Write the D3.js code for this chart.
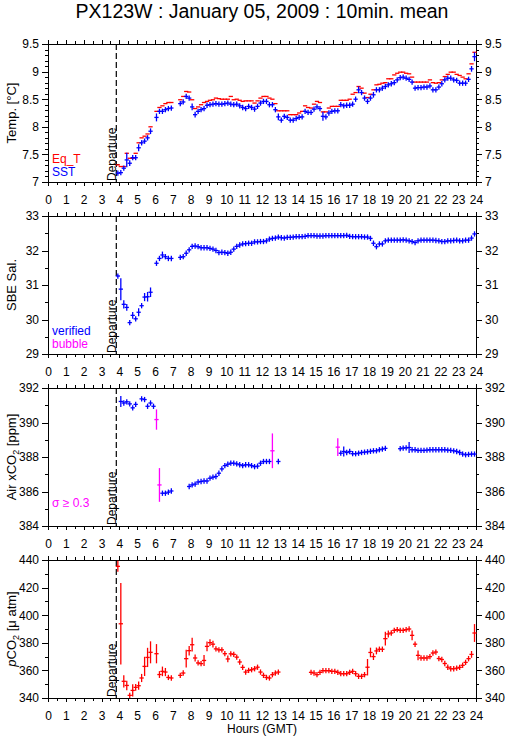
<!DOCTYPE html>
<html>
<head>
<meta charset="utf-8">
<script src="https://cdn.jsdelivr.net/npm/d3@7"></script>
<style>
  body { margin: 0; background: #fff; }
  svg { display: block; font-family: "Liberation Sans", Arial, sans-serif; }
</style>
</head>
<body>
<div id="chart"></div>
<script>
// 10 minute means, first one centred on 03:55 GMT
const startHour = 3 + 55 / 60;
const stepHours = 10 / 60;
const departureHour = 3.83;

const hourTicks = [0, 1, 2, 3, 4, 5, 6, 7, 8, 9, 10, 11, 12, 13, 14, 15, 16, 17, 18, 19, 20, 21, 22, 23, 24];
const tempTicks = [7, 7.5, 8, 8.5, 9, 9.5];
const salTicks = [29, 30, 31, 32, 33];
const airTicks = [384, 386, 388, 390, 392];
const pco2Ticks = [340, 360, 380, 400, 420, 440];

const eqT = [7.31, 7.28, 7.28, 7.52, 7.43, 7.43, 7.52, 7.71, 7.80, 7.83,
  7.87, 8.00, null, 8.28, 8.35, 8.38, 8.42, 8.44, 8.44, null,
  null, 8.49, 8.55, 8.64, 8.63, 8.49, 8.33, 8.36, 8.40, 8.44,
  8.46, 8.48, 8.49, 8.52, 8.51, 8.50, 8.50, 8.50, 8.55, 8.49,
  8.50, 8.48, 8.46, 8.47, 8.47, 8.47, 8.43, 8.47, 8.52, 8.55,
  8.55, 8.52, 8.50, 8.42, 8.29, 8.29, 8.29, 8.29, 8.22, 8.22,
  8.22, 8.25, 8.28, 8.38, 8.35, 8.34, 8.41, 8.46, 8.44, 8.27,
  8.27, 8.34, 8.37, 8.37, 8.37, 8.48, 8.48, 8.48, 8.50, 8.59,
  8.62, 8.73, 8.70, 8.61, 8.53, 8.59, 8.67, 8.76, 8.77, 8.79,
  8.80, 8.87, 8.87, 8.94, 8.97, 8.99, 8.99, 8.97, 8.96, 8.90,
  8.81, 8.81, 8.81, 8.81, 8.81, 8.85, 8.80, 8.79, 8.80, 8.85,
  8.91, 8.95, 8.99, 8.99, 8.95, 8.93, 8.90, 8.87, 8.96, 9.14,
  9.35];

const sst = [7.16, 7.17, 7.25, 7.40, 7.34, 7.44, 7.44, 7.62, 7.71, 7.74,
  7.80, 7.92, null, 8.17, 8.28, 8.28, 8.31, 8.33, 8.34, null,
  null, 8.42, 8.45, 8.55, 8.52, 8.36, 8.22, 8.28, 8.31, 8.33,
  8.39, 8.40, 8.41, 8.42, 8.41, 8.41, 8.42, 8.43, 8.41, 8.40,
  8.41, 8.38, 8.35, 8.33, 8.37, 8.35, 8.32, 8.37, 8.43, 8.46,
  8.46, 8.40, 8.40, 8.31, 8.18, 8.12, 8.19, 8.17, 8.12, 8.12,
  8.15, 8.17, 8.18, 8.28, 8.26, 8.26, 8.32, 8.36, 8.33, 8.19,
  8.18, 8.25, 8.28, 8.29, 8.29, 8.40, 8.38, 8.39, 8.39, 8.41,
  8.50, 8.67, 8.62, 8.52, 8.46, 8.52, 8.58, 8.67, 8.67, 8.70,
  8.73, 8.76, 8.78, 8.80, 8.85, 8.89, 8.90, 8.88, 8.86, 8.81,
  8.70, 8.71, 8.71, 8.72, 8.72, 8.74, 8.67, 8.67, 8.72, 8.78,
  8.85, 8.88, 8.88, 8.85, 8.84, 8.79, 8.79, 8.79, 8.86, 9.05,
  9.27];

const sstSd = [0.02, 0.02, 0.03, 0.12, 0.04, 0.03, 0.02, 0.05, 0.02, 0.03,
  0.02, 0.04, 0, 0.06, 0.02, 0.02, 0.02, 0.02, 0.02, 0,
  0, 0.02, 0.02, 0.03, 0.02, 0.05, 0.04, 0.02, 0.02, 0.02,
  0.02, 0.02, 0.02, 0.02, 0.02, 0.02, 0.02, 0.02, 0.02, 0.02,
  0.02, 0.02, 0.02, 0.02, 0.02, 0.02, 0.02, 0.02, 0.02, 0.02,
  0.02, 0.02, 0.02, 0.02, 0.05, 0.03, 0.02, 0.02, 0.02, 0.02,
  0.02, 0.02, 0.02, 0.02, 0.02, 0.02, 0.02, 0.02, 0.02, 0.07,
  0.02, 0.02, 0.02, 0.02, 0.02, 0.02, 0.02, 0.02, 0.02, 0.02,
  0.02, 0.05, 0.03, 0.02, 0.02, 0.02, 0.04, 0.03, 0.02, 0.02,
  0.02, 0.02, 0.02, 0.02, 0.02, 0.02, 0.02, 0.02, 0.02, 0.02,
  0.02, 0.02, 0.02, 0.02, 0.02, 0.02, 0.02, 0.02, 0.02, 0.02,
  0.02, 0.02, 0.02, 0.02, 0.02, 0.02, 0.02, 0.02, 0.02, 0.04,
  0.07];

const sal = [31.26, 30.88, 30.44, 30.35, 29.91, 30.12, 30.02, 30.21, 30.40, 30.65,
  30.66, 30.79, null, 31.63, 31.77, 31.87, 31.82, 31.77, 31.77, null,
  null, 31.80, 31.82, 31.92, 32.02, 32.12, 32.13, 32.11, 32.08, 32.08,
  32.08, 32.06, 32.04, 32.00, 31.94, 31.95, 31.94, 31.92, 31.95, 32.04,
  32.12, 32.16, 32.19, 32.20, 32.21, 32.21, 32.25, 32.25, 32.26, 32.26,
  32.28, 32.33, 32.35, 32.36, 32.39, 32.37, 32.36, 32.38, 32.38, 32.39,
  32.40, 32.40, 32.40, 32.41, 32.43, 32.43, 32.43, 32.42, 32.42, 32.42,
  32.43, 32.43, 32.43, 32.43, 32.43, 32.43, 32.43, 32.44, 32.41, 32.40,
  32.40, 32.40, 32.40, 32.39, 32.39, 32.35, 32.21, 32.11, 32.19, 32.19,
  32.28, 32.30, 32.30, 32.30, 32.30, 32.30, 32.31, 32.30, 32.28, 32.26,
  32.23, 32.28, 32.30, 32.30, 32.30, 32.30, 32.30, 32.29, 32.28, 32.26,
  32.26, 32.28, 32.28, 32.29, 32.30, 32.28, 32.28, 32.30, 32.30, 32.36,
  32.48];

const salSd = [0.02, 0.30, 0.10, 0.08, 0.05, 0.08, 0.03, 0.10, 0.03, 0.10,
  0.12, 0.12, 0, 0.05, 0.04, 0.08, 0.05, 0.06, 0.06, 0,
  0, 0.02, 0.02, 0.02, 0.02, 0.02, 0.02, 0.02, 0.02, 0.02,
  0.02, 0.02, 0.02, 0.02, 0.02, 0.02, 0.02, 0.02, 0.02, 0.02,
  0.02, 0.02, 0.02, 0.02, 0.02, 0.02, 0.02, 0.02, 0.02, 0.02,
  0.02, 0.02, 0.02, 0.02, 0.02, 0.02, 0.02, 0.02, 0.02, 0.02,
  0.02, 0.02, 0.02, 0.02, 0.02, 0.02, 0.02, 0.02, 0.02, 0.02,
  0.02, 0.02, 0.02, 0.02, 0.02, 0.02, 0.02, 0.02, 0.02, 0.02,
  0.02, 0.02, 0.02, 0.02, 0.02, 0.02, 0.06, 0.03, 0.02, 0.02,
  0.02, 0.02, 0.02, 0.02, 0.02, 0.02, 0.02, 0.02, 0.02, 0.02,
  0.02, 0.02, 0.02, 0.02, 0.02, 0.02, 0.02, 0.02, 0.02, 0.02,
  0.02, 0.02, 0.02, 0.02, 0.02, 0.02, 0.02, 0.02, 0.02, 0.03,
  0.04];

const airCO2 = [null, 391.22, 391.13, 391.20, 391.08, 390.85, 391.05, null, 391.37, 391.33,
  390.94, 391.13, 390.94, 390.17, 386.38, 385.90, 385.90, 385.96, 386.03, null,
  null, null, null, null, 386.29, 386.38, 386.43, 386.55, 386.58, 386.61,
  386.61, 386.77, 386.83, 386.87, 387.06, 387.31, 387.50, 387.58, 387.64, 387.64,
  387.60, 387.55, 387.50, 387.55, 387.55, 387.50, 387.44, 387.47, 387.64, 387.74,
  387.74, 387.74, 388.36, null, 387.74, null, null, null, null, null,
  null, null, null, null, null, null, null, null, null, null,
  null, null, null, null, 388.57, 388.22, 388.32, 388.26, 388.32, 388.19,
  388.19, 388.22, 388.26, 388.28, 388.30, 388.33, 388.36, 388.36, 388.42, 388.46,
  388.50, null, null, null, null, 388.48, 388.52, 388.53, 388.55, 388.42,
  388.42, 388.38, 388.38, 388.38, 388.40, 388.42, 388.42, 388.42, 388.42, 388.42,
  388.42, 388.40, 388.38, 388.36, 388.32, 388.26, 388.17, 388.13, 388.15, 388.17,
  388.17];

const airSd = [0, 0.28, 0.03, 0.03, 0.03, 0.05, 0.05, 0, 0.03, 0.03,
  0.05, 0.03, 0.05, 0.55, 0.94, 0.03, 0.03, 0.03, 0.03, 0,
  0, 0, 0, 0, 0.03, 0.03, 0.03, 0.03, 0.03, 0.03,
  0.03, 0.03, 0.03, 0.03, 0.12, 0.05, 0.03, 0.03, 0.03, 0.03,
  0.03, 0.03, 0.03, 0.03, 0.03, 0.03, 0.03, 0.03, 0.03, 0.03,
  0.03, 0.03, 0.97, 0, 0.03, 0, 0, 0, 0, 0,
  0, 0, 0, 0, 0, 0, 0, 0, 0, 0,
  0, 0, 0, 0, 0.48, 0.03, 0.25, 0.03, 0.03, 0.03,
  0.03, 0.03, 0.03, 0.03, 0.03, 0.03, 0.03, 0.03, 0.03, 0.03,
  0.03, 0, 0, 0, 0, 0.03, 0.03, 0.03, 0.28, 0.03,
  0.03, 0.03, 0.03, 0.03, 0.03, 0.03, 0.03, 0.03, 0.03, 0.03,
  0.03, 0.03, 0.03, 0.03, 0.03, 0.03, 0.03, 0.03, 0.03, 0.03,
  0.03];

const pco2 = [435.4, 393.8, 352.1, 349.1, 341.9, 345.5, 347.7, 348.9, 354.5, 362.9,
  369.4, 373.1, null, 372.1, 357.0, 359.3, 358.8, 354.9, 354.5, null,
  null, 356.4, 358.1, 368.5, 374.3, 378.6, 369.0, 365.4, 364.9, 367.2,
  377.4, 380.1, 379.0, 375.6, 374.9, 374.9, 372.1, 368.3, 372.0, 371.6,
  369.6, 366.1, 362.2, 358.8, 360.0, 360.5, 361.2, 362.3, 358.8, 356.4,
  354.9, 354.5, 356.9, 358.1, 358.8, null, null, null, null, null,
  null, null, null, null, null, 358.6, 358.1, 356.9, 358.6, 359.8,
  359.8, 359.8, 359.3, 359.3, 358.6, 357.6, 357.6, 357.6, 358.6, 359.3,
  357.6, 355.7, 355.7, 356.9, 362.3, 373.0, 370.0, 374.1, 375.3, 375.3,
  383.0, 386.4, 387.1, 389.0, 389.5, 389.0, 389.0, 389.5, 390.0, 385.4,
  379.0, 370.9, 369.0, 369.0, 369.0, 370.0, 372.6, 373.3, 368.6, 367.9,
  365.0, 362.3, 361.2, 361.2, 361.6, 362.2, 363.7, 365.8, 368.5, 371.6,
  387.1];

const pco2Sd = [3.5, 29, 4, 3, 1.5, 4, 2, 2.5, 2.5, 6.5,
  6.5, 7.5, 0, 6.5, 2, 3, 2.5, 1, 1, 0,
  0, 1, 1, 6, 3, 4.5, 2, 1, 1, 3.5,
  3, 2, 2, 1, 1, 1, 1, 2, 1, 1,
  1, 1, 1, 1, 1, 1, 1, 1, 1, 1,
  1, 1, 1, 1, 1, 0, 0, 0, 0, 0,
  0, 0, 0, 0, 0, 1, 1, 1, 1, 1,
  1, 1, 1, 1, 1, 1, 1, 1, 1, 1,
  1, 1, 1, 1, 5.5, 3, 2, 2, 1.5, 1.5,
  4.5, 2, 1, 1, 1, 1, 1, 1, 1, 3,
  1.5, 3, 1, 1, 1, 1, 1, 1, 1, 1,
  1, 1, 1, 1, 1, 1, 1, 1, 1.5, 2,
  6];

const RED = "#ff0000", BLUE = "#0000ff", MAGENTA = "#ff00ff";

function main() {
    const width = 509;
    const height = 739;
    const left = 48, right = 476;
    const panelTops = [44, 216, 388, 560];
    const panelH = 138;
    const font = "'Liberation Sans', Arial, sans-serif";

    const svg = d3.select("#chart")
        .append("svg")
        .attr("width", width)
        .attr("height", height)
        .style("background-color", "#fff");

    const x = d3.scaleLinear().domain([0, 24]).range([left, right]);
    const hourOf = i => startHour + i * stepHours;

    const panels = [
        {
            domain: [7, 9.5], ticks: tempTicks, minor: 25,
            label: ["Temp. [°C]"],
            series: [
                { values: eqT, color: () => RED, dashOnly: true },
                { values: sst, sd: sstSd, color: () => BLUE }
            ],
            legend: [["Eq_T", RED], ["SST", BLUE]]
        },
        {
            domain: [29, 33], ticks: salTicks, minor: 8,
            label: ["SBE Sal."],
            series: [{ values: sal, sd: salSd, color: () => BLUE }],
            legend: [["verified", BLUE], ["bubble", MAGENTA]]
        },
        {
            domain: [384, 392], ticks: airTicks, minor: 8,
            label: ["Air xCO", "2", " [ppm]"],
            series: [{ values: airCO2, sd: airSd, color: s => s >= 0.3 ? MAGENTA : BLUE }],
            legend: [["σ ≥ 0.3", MAGENTA]]
        },
        {
            domain: [340, 440], ticks: pco2Ticks, minor: 10,
            label: ["CO", "2", " [μ atm]"], italicP: true,
            series: [{ values: pco2, sd: pco2Sd, color: () => RED }],
            legend: []
        }
    ];

    // title
    svg.append("text")
        .attr("x", (left + right) / 2)
        .attr("y", 18)
        .attr("text-anchor", "middle")
        .attr("font-size", 19.5)
        .text("PX123W : January 05, 2009 : 10min. mean");

    panels.forEach((p, k) => {
        const top = panelTops[k];
        const bottom = top + panelH;
        const y = d3.scaleLinear().domain(p.domain).range([bottom, top]);
        const g = svg.append("g");

        const styleAxis = sel => {
            sel.select(".domain").remove();
            sel.attr("font-size", 12).attr("font-family", font);
            sel.selectAll("line").attr("stroke-width", 1).attr("shape-rendering", "crispEdges");
        };

        // y axes, both sides
        g.append("g").attr("transform", `translate(${left},0)`)
            .call(d3.axisLeft(y).tickValues(y.ticks(p.minor)).tickSize(3).tickFormat(""))
            .call(styleAxis);
        g.append("g").attr("transform", `translate(${left},0)`)
            .call(d3.axisLeft(y).tickValues(p.ticks).tickSize(6).tickPadding(3).tickFormat(d => String(d)))
            .call(styleAxis);
        g.append("g").attr("transform", `translate(${right},0)`)
            .call(d3.axisRight(y).tickValues(y.ticks(p.minor)).tickSize(3).tickFormat(""))
            .call(styleAxis);
        g.append("g").attr("transform", `translate(${right},0)`)
            .call(d3.axisRight(y).tickValues(p.ticks).tickSize(6).tickPadding(3).tickFormat(d => String(d)))
            .call(styleAxis);

        // x axes, top and bottom
        g.append("g").attr("transform", `translate(0,${top})`)
            .call(d3.axisTop(x).tickValues(x.ticks(48)).tickSize(3).tickFormat(""))
            .call(styleAxis);
        g.append("g").attr("transform", `translate(0,${top})`)
            .call(d3.axisTop(x).tickValues(hourTicks).tickSize(4).tickFormat(""))
            .call(styleAxis);
        g.append("g").attr("transform", `translate(0,${bottom})`)
            .call(d3.axisBottom(x).tickValues(x.ticks(48)).tickSize(3).tickFormat(""))
            .call(styleAxis);
        g.append("g").attr("transform", `translate(0,${bottom})`)
            .call(d3.axisBottom(x).tickValues(hourTicks).tickSize(4).tickPadding(9).tickFormat(d => String(d)))
            .call(styleAxis);

        // frame
        g.append("rect")
            .attr("x", left).attr("y", top)
            .attr("width", right - left).attr("height", panelH)
            .attr("fill", "none").attr("stroke", "#000")
            .attr("shape-rendering", "crispEdges");

        // departure marker
        const xd = x(departureHour);
        g.append("line")
            .attr("x1", xd).attr("x2", xd)
            .attr("y1", top).attr("y2", bottom)
            .attr("stroke", "#000").attr("stroke-width", 1.2)
            .attr("stroke-dasharray", "6,3");
        g.append("text")
            .attr("transform", `translate(${xd - 0.5},${bottom - 1}) rotate(-90)`)
            .attr("font-size", 12)
            .text("Departure");

        // y title
        const yt = g.append("text")
            .attr("transform", `translate(16,${(top + bottom) / 2}) rotate(-90)`)
            .attr("text-anchor", "middle")
            .attr("font-size", 13);
        if (p.italicP) yt.append("tspan").attr("font-style", "italic").text("p");
        yt.append("tspan").text(p.label[0]);
        if (p.label.length > 1) {
            yt.append("tspan").attr("font-size", 9).attr("dy", 3).text(p.label[1]);
            yt.append("tspan").attr("dy", -3).text(p.label[2]);
        }

        // legend
        p.legend.forEach((d, j) => {
            g.append("text")
                .attr("x", 52)
                .attr("y", bottom - 19 + j * 13)
                .attr("font-size", 12)
                .attr("fill", d[1])
                .text(d[0]);
        });

        // 10-min means as crosses
        p.series.forEach(s => {
            const pts = s.values.map((v, i) => ({ t: hourOf(i), v: v, sd: s.sd ? s.sd[i] : 0 }))
                .filter(d => d.v !== null);
            const sg = g.append("g")
                .attr("stroke-width", 1.3)
                .attr("stroke-linecap", "square");
            sg.selectAll("line.h")
                .data(pts)
                .enter()
                .append("line")
                .attr("class", "h")
                .attr("x1", d => x(d.t - stepHours / 2))
                .attr("x2", d => x(d.t + stepHours / 2))
                .attr("y1", d => y(d.v))
                .attr("y2", d => y(d.v))
                .attr("stroke", d => s.color(d.sd));
            if (!s.dashOnly) {
                const half = d => Math.max(Math.abs(y(d.v + d.sd) - y(d.v)), 2);
                sg.selectAll("line.v")
                    .data(pts)
                    .enter()
                    .append("line")
                    .attr("class", "v")
                    .attr("x1", d => x(d.t))
                    .attr("x2", d => x(d.t))
                    .attr("y1", d => y(d.v) - half(d))
                    .attr("y2", d => y(d.v) + half(d))
                    .attr("stroke", d => s.color(d.sd));
            }
        });
    });

    svg.append("text")
        .attr("x", (left + right) / 2)
        .attr("y", 733)
        .attr("text-anchor", "middle")
        .attr("font-size", 12)
        .text("Hours (GMT)");
}

main();
</script>
</body>
</html>
